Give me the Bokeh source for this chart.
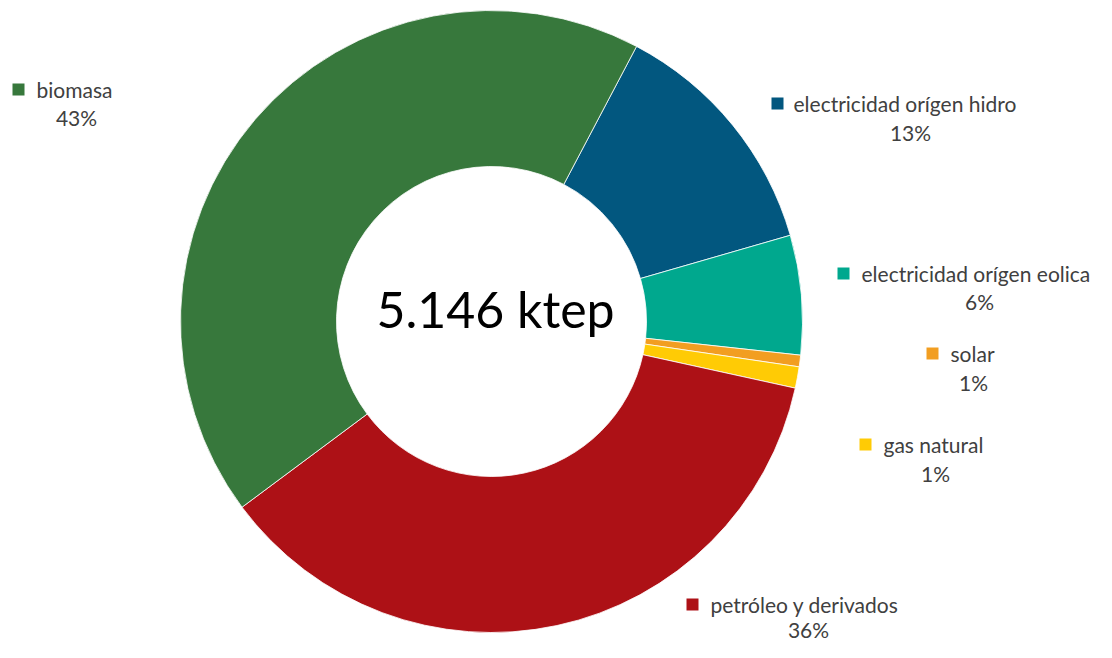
import numpy as np
from bokeh.plotting import figure
from bokeh.models import ColumnDataSource, Range1d
from bokeh.core.properties import value
from bokeh.embed import file_html
from bokeh.resources import INLINE

# ---- data (clockwise order starting at the top-right) ----
categories = ["electricidad orígen hidro", "electricidad orígen eolica", "solar",
              "gas natural", "petróleo y derivados", "biomasa"]
values_ktep = [659, 319, 31, 57, 1872, 2208]
colors = ["#02577f", "#00a88e", "#f29e21", "#ffcb05", "#ad1116", "#37783c"]
total_label = "5.146 ktep"

# ---- layout (pixels, top-left origin of the figure) ----
W, H = 1096, 642
CX, CY = 491, 321
R_OUT, R_IN = 311, 155
START_DEG_FROM_TOP = 27.8

# label anchors: key square centre x, text left x, line-1 middle y, percent centre x, percent middle y
label_pos = {
    "biomasa": (18, 36, 89, 76, 117),
    "electricidad orígen hidro": (777, 793, 103, 910, 132),
    "electricidad orígen eolica": (843, 861, 273, 979, 301),
    "solar": (932, 950, 353, 973, 382),
    "gas natural": (865, 883, 444, 935, 473),
    "petróleo y derivados": (692, 710, 604, 808, 629),
}

vals = np.array(values_ktep, dtype=float)
frac = vals / vals.sum()
sweep = frac * 2 * np.pi
a0 = np.deg2rad(90 - START_DEG_FROM_TOP)
cum = np.concatenate([[0], np.cumsum(sweep)])
starts = a0 - cum[:-1]
ends = a0 - cum[1:]
pcts = [f"{int(round(f * 100))}%" for f in frac]

p = figure(width=W, height=H, output_backend="svg", toolbar_location=None,
           x_range=Range1d(0, W), y_range=Range1d(0, H), min_border=0)
p.axis.visible = False
p.grid.visible = False
p.outline_line_color = None
p.background_fill_color = "white"
p.border_fill_color = "white"

src = ColumnDataSource(dict(cat=categories, start=starts, end=ends, color=colors,
                            x=[CX] * len(vals), y=[H - CY] * len(vals)))
p.annular_wedge(x="x", y="y", inner_radius=R_IN, outer_radius=R_OUT,
                inner_radius_units="screen", outer_radius_units="screen",
                start_angle="start", end_angle="end", direction="clock",
                fill_color="color", line_color="white", line_width=0.8, source=src)

fnt = value("Lato")
FS = "21px"
for cat, col, pc in zip(categories, colors, pcts):
    sx, tx, ty, px, py = label_pos[cat]
    p.scatter([sx], [H - ty], marker="square", size=12, fill_color=col, line_color=None)
    p.text([tx], [H - ty], text=[cat], text_font=fnt, text_font_size=FS,
           text_color="#404040", text_align="left", text_baseline="middle")
    p.text([px], [H - py], text=[pc], text_font=fnt, text_font_size=FS,
           text_color="#404040", text_align="center", text_baseline="middle")

p.text([495], [H - 308], text=[total_label], text_font=fnt, text_font_size="50px",
       text_color="#000000", text_align="center", text_baseline="middle")

open("out.html", "w").write(file_html(p, INLINE))
